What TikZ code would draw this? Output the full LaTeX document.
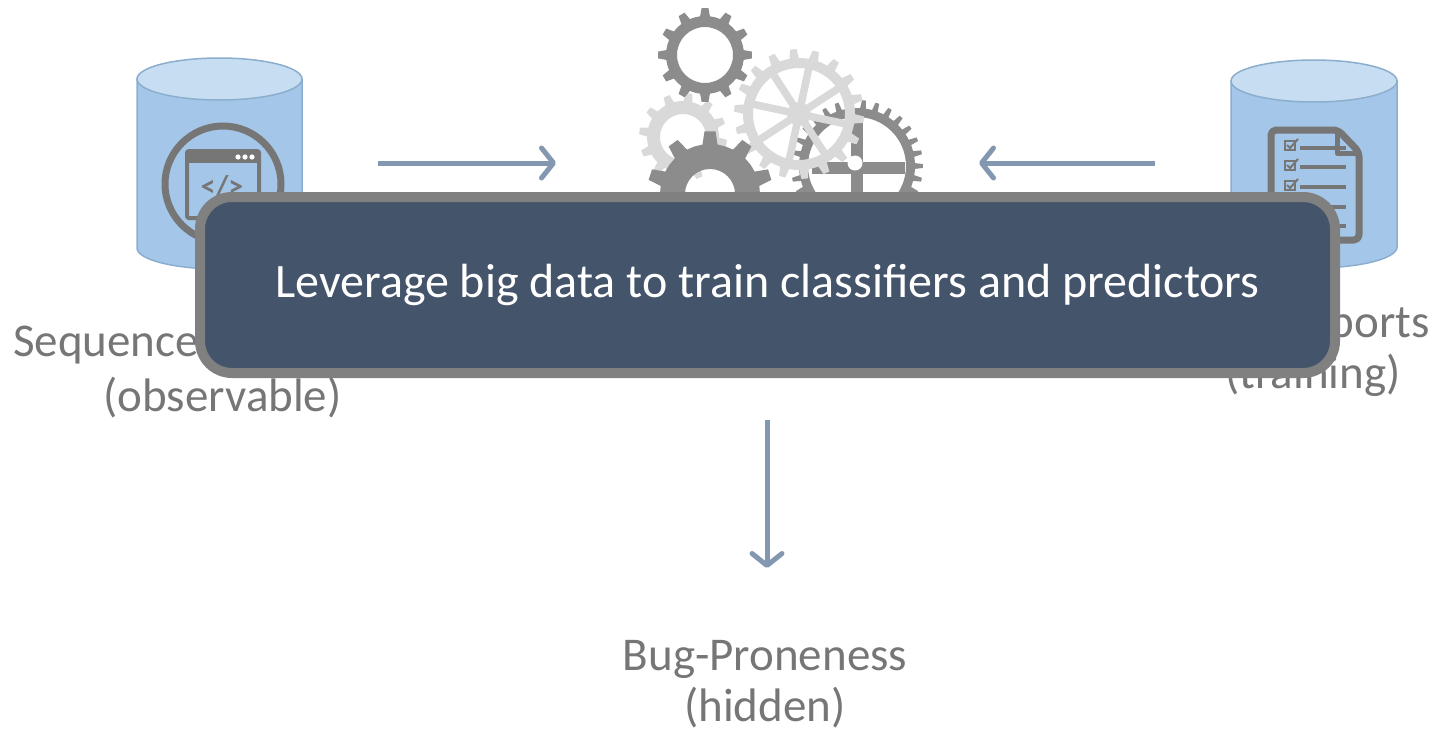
\documentclass[tikz,border=0pt]{standalone}
\usepackage{fontspec}
\setmainfont{Carlito}
\usetikzlibrary{arrows.meta}

\definecolor{labelgray}{RGB}{118,118,118}
\definecolor{arrowblue}{RGB}{132,151,176}
\definecolor{boxnavy}{RGB}{68,84,106}
\definecolor{boxedge}{RGB}{128,128,128}
\definecolor{cylbody}{RGB}{164,198,232}
\definecolor{cyltop}{RGB}{199,221,241}
\definecolor{cyledge}{RGB}{140,174,206}
\definecolor{icongray}{RGB}{118,118,118}
\definecolor{geardark}{RGB}{140,140,140}
\definecolor{gearlight}{RGB}{217,217,217}

\tikzset{
  % teeth, root radius, tip radius, hole radius, phase
  pics/gear/.style n args={5}{code={
    \pgfmathsetmacro\gstep{360/#1}
    \path[pic actions, even odd rule]
      ({#5-0.5*\gstep}:#2)
      \foreach \k in {1,...,#1}{
        -- ({#5+(\k-1)*\gstep-0.24*\gstep}:#2)
        -- ({#5+(\k-1)*\gstep-0.14*\gstep}:#3)
        -- ({#5+(\k-1)*\gstep+0.14*\gstep}:#3)
        -- ({#5+(\k-1)*\gstep+0.24*\gstep}:#2)
        -- ({#5+(\k-1)*\gstep+0.5*\gstep}:#2)
      } -- cycle
      (0,0) circle[radius=#4];
  }},
  labeltext/.style={inner sep=0pt, text=labelgray,
    font=\fontsize{47pt}{56pt}\selectfont},
  flow/.style={draw=arrowblue, line width=5pt,
    -{Straight Barb[round, length=12pt, width=30pt]}},
  cylside/.style={fill=cylbody, draw=cyledge, line width=1.5pt},
  cylcap/.style={fill=cyltop, draw=cyledge, line width=1.5pt},
  banner/.style={draw=boxedge, line width=10pt, fill=boxnavy,
    rounded corners=32pt, minimum width=1135pt, minimum height=176pt,
    text=white, font=\fontsize{48pt}{57pt}\selectfont},
}

\begin{document}
\begin{tikzpicture}[x=1pt, y=-1pt]
\useasboundingbox (0,0) rectangle (1439,734);

% ---------- left data store ----------
\path[cylside] (137,79) -- (137,248)
  arc[start angle=180, end angle=0, x radius=82.5, y radius=21]
  -- (302,79) -- cycle;
\path[cylcap] (219.5,79) ellipse[x radius=82.5, y radius=21];
% code window icon
\draw[icongray, line width=7pt] (223,184) circle[radius=58];
\draw[icongray, line width=4pt, rounded corners=2pt] (187,151) rectangle (259,218);
\fill[icongray] (187,151) rectangle (259,163);
\foreach \dx in {238,245,252} \fill[white] (\dx,157) circle[radius=2.6];
\node[text=icongray, inner sep=0pt, font=\bfseries\fontsize{30pt}{30pt}\selectfont]
  (codetag) at (222,187) {</>};

% ---------- right data store ----------
\path[cylside] (1231,81) -- (1231,247)
  arc[start angle=180, end angle=0, x radius=83, y radius=21]
  -- (1397,81) -- cycle;
\path[cylcap] (1314,81) ellipse[x radius=83, y radius=21];
% report sheet icon
\draw[icongray, line width=7pt, line join=round, rounded corners=5pt]
  (1271,130) -- (1338,130) -- (1359,152) -- (1359,240) -- (1271,240) -- cycle;
\draw[icongray, line width=5pt, line join=round] (1337,131) -- (1337,153) -- (1358,153);
\foreach \yy in {148,167,187,207,226} {
  \draw[icongray, line width=4pt] (1300,\yy) -- (1346,\yy);
}
\foreach \yy in {146,166,186} {
  \draw[icongray, line width=2.2pt] (1285,\yy-5) rectangle (1295,\yy+4);
  \draw[icongray, line width=2pt] (1287,\yy-1) -- (1290,\yy+2) -- (1298,\yy-7);
}

% ---------- gears ----------
\pic[fill=geardark] at (857,166) {gear={30}{58}{66}{49}{0}};
\draw[geardark, line width=12pt] (812,168) -- (905,168);
\draw[geardark, line width=12pt] (857,120) -- (857,215);
\fill[white] (855,163) circle[radius=7.5];

\pic[fill=gearlight] at (683,137) {gear={12}{36}{44}{23}{8}};

\pic[fill=gearlight] at (799,114) {gear={18}{56}{65}{46}{5}};
\foreach \a in {0,45,...,315}
  \draw[gearlight, line width=7.5pt] (799,114) -- ++(\a+12:50);
\fill[gearlight] (799,114) circle[radius=12];

\pic[fill=geardark] at (710,194) {gear={10}{50}{63}{25}{-90}};

\pic[fill=geardark] at (705,55) {gear={12}{39}{47}{28}{0}};

% ---------- arrows ----------
\coordinate (srcL) at (378,163);
\coordinate (engL) at (556,163);
\coordinate (srcR) at (1155,163);
\coordinate (engR) at (979,163);
\coordinate (engB) at (767,420);
\coordinate (outB) at (767,568);
\draw[flow] (srcL) -- (engL);
\draw[flow] (srcR) -- (engR);
\draw[flow] (engB) -- (outB);

% ---------- labels ----------
\node[labeltext, anchor=base west] (seqA) at (13,356) {Sequence};
\node[labeltext, anchor=base] (seqB) at (222.5,411) {(observable)};
\node[labeltext, anchor=base east] (repA) at (1430,337) {Reports};
\node[labeltext, anchor=base] (repB) at (1313,388) {(training)};
\node[labeltext, anchor=base] (bugA) at (765,670) {Bug-Proneness};
\node[labeltext, anchor=base] (bugB) at (765,721) {(hidden)};

% ---------- banner ----------
\node[banner] (banner) at (767.5,285) {Leverage big data to train classifiers and predictors};
\end{tikzpicture}
\end{document}
